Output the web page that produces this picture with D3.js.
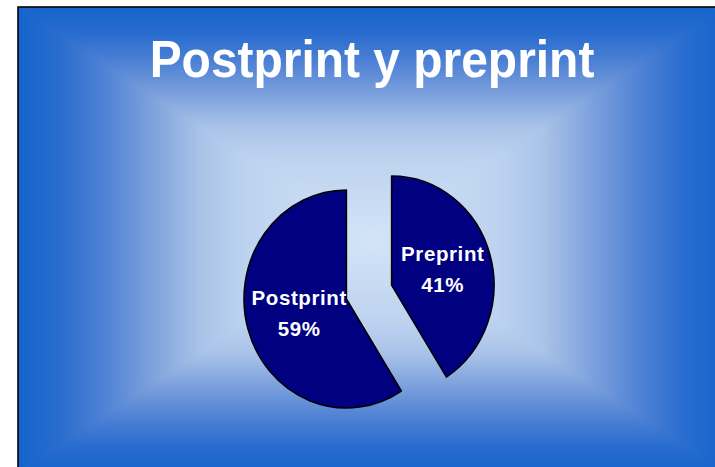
<!DOCTYPE html>
<html>
<head>
<meta charset="utf-8">
<script src="https://cdn.jsdelivr.net/npm/d3@7"></script>
<style>
  html, body { margin: 0; padding: 0; background: #ffffff; }
  svg { display: block; }
  text { font-family: "Liberation Sans", Arial, sans-serif; font-weight: bold; fill: #ffffff; }
</style>
</head>
<body>
<svg id="chart" width="715" height="467"></svg>
<script>
// ---- data ----
const categories = ["Preprint", "Postprint"];
const values = [41, 59];
const chartTitle = "Postprint y preprint";

// ---- layout ----
const sx = 0.94;               // horizontal squeeze seen in the picture
const box = { L: 18, T: 7, R: 726, B: 473 };
const gc = { x: 372, y: 240 }; // gradient centre
const pieCenter = { x: 369, y: 292 };
const radius = 109;
const explode = 25;

const svg = d3.select("#chart");
const defs = svg.append("defs");

// gradient stops (edge -> centre)
const stops = [
  [0.00, "#1464cc"], [0.12, "#2a6dcf"], [0.23, "#4b7fd4"], [0.37, "#7a9fdc"],
  [0.51, "#a8c2e8"], [0.64, "#bcd2ef"], [1.00, "#d3e4f6"]
];
function grad(id, x1, y1, x2, y2, mirror) {
  const g = defs.append("linearGradient").attr("id", id)
    .attr("gradientUnits", "userSpaceOnUse")
    .attr("x1", x1).attr("y1", y1).attr("x2", x2).attr("y2", y2);
  if (mirror) {
    stops.forEach(s => g.append("stop").attr("offset", s[0] / 2).attr("stop-color", s[1]));
    stops.slice().reverse().forEach(s => g.append("stop").attr("offset", 1 - s[0] / 2).attr("stop-color", s[1]));
  } else {
    stops.forEach(s => g.append("stop").attr("offset", s[0]).attr("stop-color", s[1]));
  }
}
grad("gH", box.L, 0, box.R, 0, true);
grad("gT", 0, box.T, 0, gc.y, false);
grad("gB", 0, box.B, 0, gc.y, false);

defs.append("clipPath").attr("id", "boxClip")
  .append("rect").attr("x", box.L).attr("y", box.T)
  .attr("width", box.R - box.L).attr("height", box.B - box.T);
const blur = defs.append("filter").attr("id", "soft")
  .attr("x", -0.1).attr("y", -0.1).attr("width", 1.2).attr("height", 1.2);
blur.append("feGaussianBlur").attr("stdDeviation", 3.5);

const bg = svg.append("g").attr("clip-path", "url(#boxClip)");
const poly = pts => "M" + pts.map(p => p.join(",")).join("L") + "Z";
// extend a corner outward along its diagonal from the centre
const ext = (p, k) => [gc.x + (p[0] - gc.x) * k, gc.y + (p[1] - gc.y) * k];
bg.append("rect").attr("x", box.L - 20).attr("y", box.T - 20)
  .attr("width", box.R - box.L + 40).attr("height", box.B - box.T + 40)
  .attr("fill", "url(#gH)");
const soft = bg.append("g").attr("filter", "url(#soft)");
soft.append("path").attr("d", poly([ext([box.L, box.T], 1.2), ext([box.R, box.T], 1.2), [gc.x, gc.y]])).attr("fill", "url(#gT)");
soft.append("path").attr("d", poly([ext([box.L, box.B], 1.2), ext([box.R, box.B], 1.2), [gc.x, gc.y]])).attr("fill", "url(#gB)");
svg.append("rect").attr("x", box.L).attr("y", box.T)
  .attr("width", box.R - box.L).attr("height", box.B - box.T)
  .attr("fill", "none").attr("stroke", "#000").attr("stroke-width", 1.6);

// title (squeezed horizontally)
svg.append("g").attr("transform", `scale(${sx},1)`)
  .append("text")
  .attr("x", 372 / sx).attr("y", 77)
  .attr("text-anchor", "middle")
  .attr("font-size", 51)
  .text(chartTitle);

// pie (squeezed horizontally)
const data = categories.map((c, i) => ({ name: c, value: values[i] }));
const total = d3.sum(values);
const pie = d3.pie().sort(null).value(d => d.value).startAngle(0);
const arc = d3.arc().innerRadius(0).outerRadius(radius);
const arcs = pie(data);

const pg = svg.append("g").attr("transform", `translate(${pieCenter.x},${pieCenter.y}) scale(${sx},1)`);
const slices = pg.selectAll("g.slice").data(arcs).join("g").attr("class", "slice")
  .attr("transform", d => {
    const a = (d.startAngle + d.endAngle) / 2;
    return `translate(${Math.sin(a) * explode},${-Math.cos(a) * explode})`;
  });

slices.append("path")
  .attr("d", arc)
  .attr("fill", "#000080")
  .attr("stroke", "#000000")
  .attr("stroke-width", 1.5)
  .attr("stroke-linejoin", "round")
  .attr("vector-effect", "non-scaling-stroke");

// labels, not squeezed
const lg = svg.append("g");
arcs.forEach(d => {
  const a = (d.startAngle + d.endAngle) / 2;
  const c = arc.centroid(d);
  const x = pieCenter.x + (c[0] + Math.sin(a) * explode) * sx + 2;
  const y = pieCenter.y + c[1] - Math.cos(a) * explode;
  const t = lg.append("text")
    .attr("text-anchor", "middle")
    .attr("font-size", 20.5)
    .attr("letter-spacing", 0.6)
    .attr("transform", `translate(${x},${y})`);
  t.append("tspan").attr("x", 0).attr("y", -9).text(d.data.name);
  t.append("tspan").attr("x", 0).attr("y", 22).text(Math.round(d.data.value / total * 100) + "%");
});
</script>
</body>
</html>
